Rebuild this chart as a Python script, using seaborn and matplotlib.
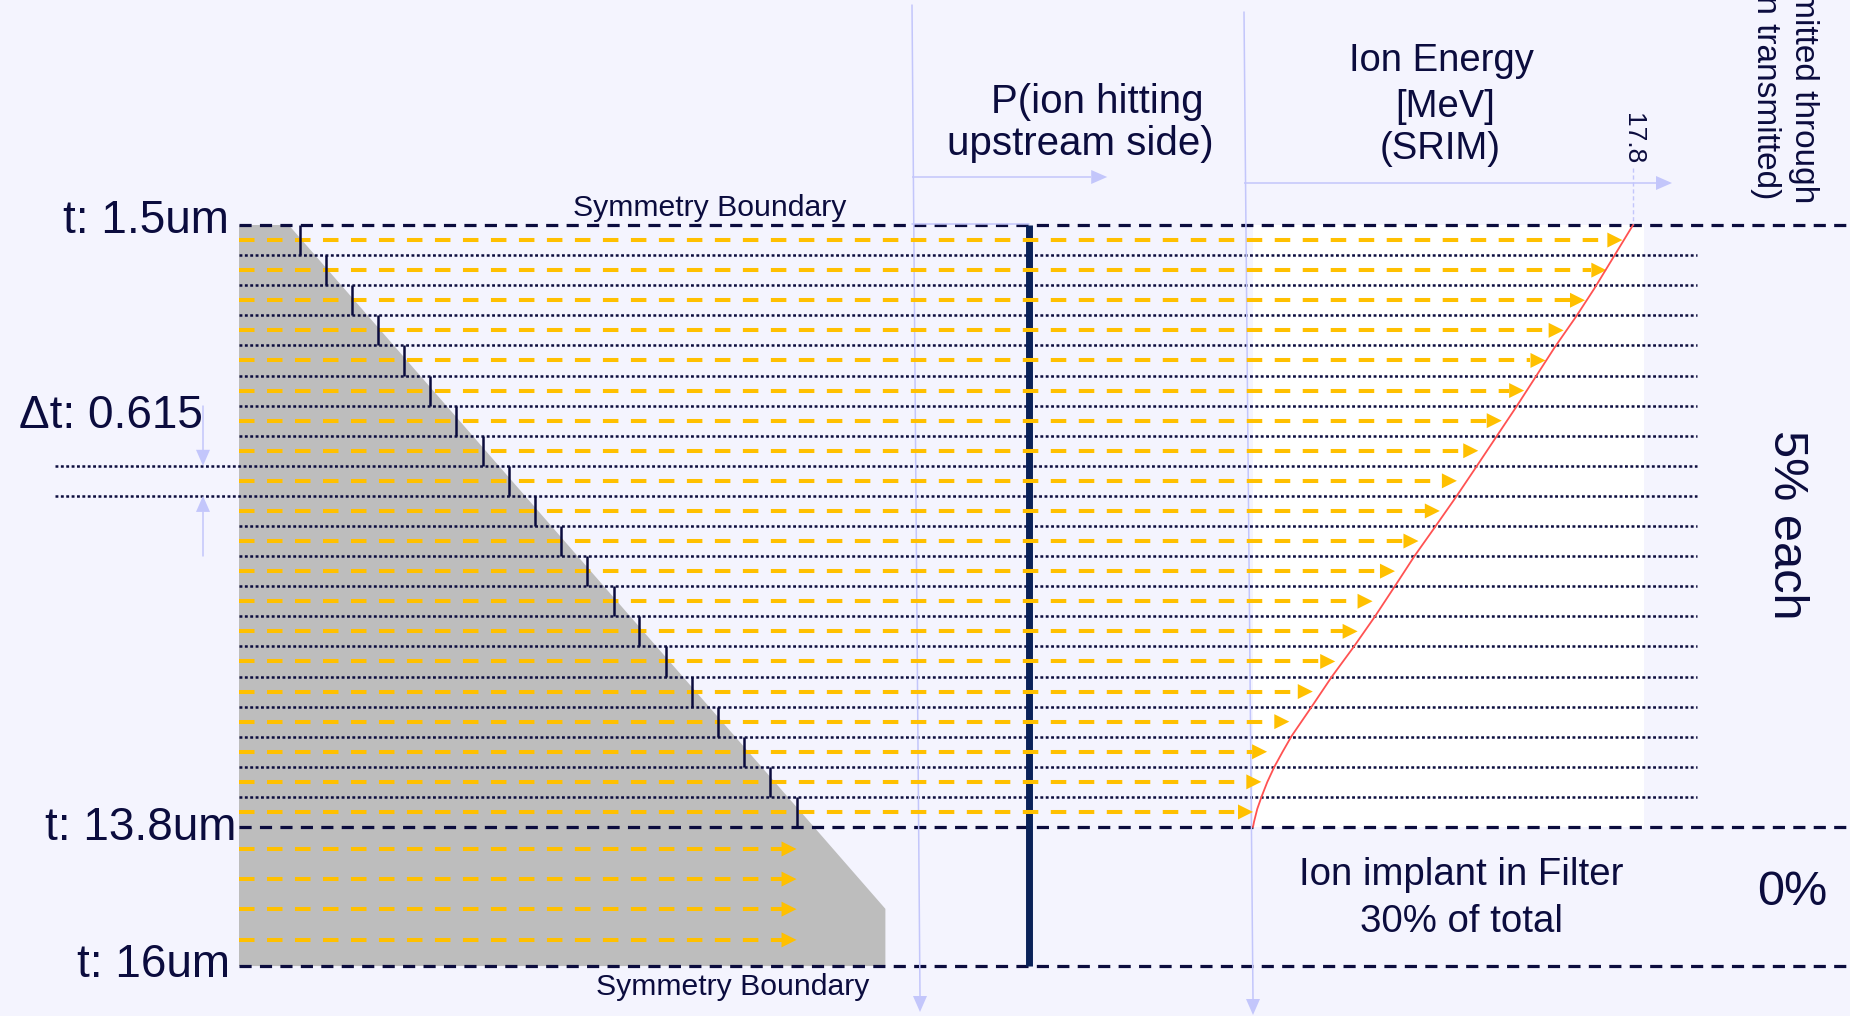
import matplotlib
matplotlib.use("Agg")
import matplotlib.pyplot as plt
from matplotlib.patches import Rectangle
import pandas as pd
import seaborn as sns

# ---- data ---------------------------------------------------------------
T_TOP = 1.5          # um, upper symmetry boundary
T_RANGE = 13.8       # um, ion range in the filter
T_BOTTOM = 16.0      # um, lower symmetry boundary
DT = 0.615           # um per 5% bin
E_MAX = 17.8         # MeV at t = 1.5um

T_LABELS = ["t: 1.5um", "t: 13.8um", "t: 16um"]

# thickness crossed by each transmitted bin (black ticks on the wedge), um
TICK_T = [1.5, 2.15, 2.8, 3.44, 4.09, 4.74, 5.38, 6.03, 6.68, 7.33,
          7.97, 8.62, 9.27, 9.91, 10.56, 11.21, 11.86, 12.5, 13.15, 13.8]

# exit energy of each bin (yellow arrow tips), MeV
ARROW_E = [17.3, 16.55, 15.55, 14.55, 13.7, 12.7, 11.65, 10.55, 9.55, 8.75,
           7.75, 6.65, 5.6, 4.9, 3.85, 2.8, 1.7, 0.66, 0.39, 0.0]

# SRIM energy vs filter thickness (red curve)
CURVE_T = [1.5, 2.79, 3.36, 4.0, 5.21, 6.44, 7.05, 7.68, 8.26, 8.75, 9.5,
           10.13, 10.73, 11.36, 11.94, 12.26, 12.57, 12.88, 13.17, 13.43,
           13.69, 13.8]
CURVE_E = [17.8, 16.0, 15.15, 14.13, 12.34, 10.46, 9.52, 8.51, 7.57, 6.84, 5.71,
           4.70, 3.69, 2.72, 1.81, 1.39, 1.0, 0.67, 0.41, 0.2,
           0.05, 0.0]

# filter cross-section: thickness [um] vs lateral row
WEDGE_T = [0.0, 1.23, 16.0, 16.0, 0.0]
WEDGE_ROW = [0.0, 0.0, 22.72, 24.62, 24.62]

IMPLANT_ROWS = [20.73, 21.73, 22.73, 23.75]   # ions stopped in the filter
P_UPSTREAM = 0.5

# ---- layout (pixels of the 1850 x 1016 canvas) --------------------------
W, H = 1850, 1016
Y_TOP, ROW_H = 225, 30.1
ROW_16 = WEDGE_ROW[-1]
X_FILTER0, PX_UM = 239, 40.4
X_E0, PX_MEV = 1253, 21.35
X_P0, PX_P = 914, 230

BG = "#f4f4fe"
NAVY = "#0b0c3e"
BAR = "#0a2259"
LIGHT = "#c3c6fb"
YELLOW = "#ffc000"
GRAY = "#bdbdbd"
RED = "#ff5252"

sns.set_theme(style="white")
plt.rcParams["font.family"] = ["Liberation Sans", "DejaVu Sans"]


def ypix(row):
    return Y_TOP + ROW_H * row


def x_filter(t):
    return X_FILTER0 + PX_UM * t


def x_energy(e):
    return X_E0 + PX_MEV * e


def arrow_h(ax, x0, x1, y, color, lw, dashes=None, hl=15, hw=15, z=5):
    kw = dict(color=color, lw=lw, solid_capstyle="butt", zorder=z)
    if dashes:
        kw.update(dashes=dashes, dash_capstyle="butt")
    ax.plot([x0, x1 - hl], [y, y], **kw)
    ax.fill([x1, x1 - hl, x1 - hl], [y, y - hw / 2, y + hw / 2],
            color=color, lw=0, zorder=z)


def arrow_v(ax, x0, y0, x1, y1, color, lw, hl=16, hw=14, z=3):
    d = 1 if y1 > y0 else -1
    ax.plot([x0, x1], [y0, y1 - d * hl], color=color, lw=lw, zorder=z)
    ax.fill([x1, x1 - hw / 2, x1 + hw / 2], [y1, y1 - d * hl, y1 - d * hl],
            color=color, lw=0, zorder=z)


fig = plt.figure(figsize=(W / 100, H / 100), dpi=100)
fig.patch.set_facecolor(BG)
ax = fig.add_axes([0, 0, 1, 1])
ax.set_facecolor(BG)

# white energy panel
ax.add_patch(Rectangle((X_E0, ypix(0)), 391, ROW_H * len(ARROW_E),
                       color="white", lw=0, zorder=1))

# filter wedge
ax.fill([x_filter(t) for t in WEDGE_T], [ypix(r) for r in WEDGE_ROW],
        color=GRAY, lw=0, zorder=2)

# bin separators (dotted) and boundaries (dashed)
for k in range(1, len(ARROW_E)):
    xs = 55 if k in (8, 9) else X_FILTER0
    ax.plot([xs, 1697], [ypix(k)] * 2, color=NAVY, lw=1.8,
            dashes=(1.15, 1.0), dash_capstyle="butt", zorder=3)
for r in (0, len(ARROW_E), ROW_16):
    ax.plot([X_FILTER0, W], [ypix(r)] * 2, color=NAVY, lw=2.3,
            dashes=(3.8, 2.6), dash_capstyle="butt", zorder=3)

# axes of the two right panels
arrow_v(ax, 912, 5, 920, 1012, LIGHT, 1.1)
arrow_v(ax, 1244, 12, 1253, 1015, LIGHT, 1.1)
arrow_h(ax, 912, X_P0 + PX_P * 0.84, 177, LIGHT, 1.1, hl=16, hw=14, z=3)
arrow_h(ax, 1244, 1672, 183, LIGHT, 1.1, hl=16, hw=14, z=3)
ax.plot([912, X_P0 + PX_P * P_UPSTREAM], [224, 224], color=LIGHT, lw=1.1, zorder=3)
ax.plot([x_energy(E_MAX)] * 2, [168, ypix(0)], color=LIGHT, lw=1.0,
        dashes=(3, 2), zorder=3)

# delta-t markers
arrow_v(ax, 203, 406, 203, ypix(8), LIGHT, 1.1)
arrow_v(ax, 203, 556, 203, ypix(9), LIGHT, 1.1)

# P(upstream) bar
ax.plot([X_P0 + PX_P * P_UPSTREAM] * 2, [ypix(0), ypix(ROW_16)], color=BAR,
        lw=5, solid_capstyle="butt", zorder=4)

# ion paths
for i, e in enumerate(ARROW_E):
    arrow_h(ax, X_FILTER0, x_energy(e), ypix(i + 0.5), YELLOW, 2.9,
            dashes=(3.85, 3.1))
for r in IMPLANT_ROWS:
    arrow_h(ax, X_FILTER0, x_filter(T_RANGE), ypix(r), YELLOW, 2.9,
            dashes=(3.85, 3.1))

# thickness ticks
for i, t in enumerate(TICK_T):
    ax.plot([x_filter(t)] * 2, [ypix(i), ypix(i + 1)], color=NAVY, lw=1.8,
            solid_capstyle="butt", zorder=6)

# SRIM energy curve
curve = pd.DataFrame({"x": [x_energy(e) for e in CURVE_E],
                      "y": [ypix((t - T_TOP) / DT) for t in CURVE_T]})
sns.lineplot(data=curve, x="x", y="y", sort=False, color=RED, lw=1.3,
             ax=ax, zorder=7)

# text
txt = dict(color=NAVY, va="baseline")
ax.text(229, 233, T_LABELS[0], fontsize=33, ha="right", **txt)
ax.text(203, 428, "Δt: " + str(DT), fontsize=33, ha="right", **txt)
ax.text(236, 840, T_LABELS[1], fontsize=33, ha="right", **txt)
ax.text(230, 977, T_LABELS[2], fontsize=33, ha="right", **txt)
ax.text(710, 216, "Symmetry Boundary", fontsize=21.7, ha="center", **txt)
ax.text(733, 995, "Symmetry Boundary", fontsize=21.7, ha="center", **txt)
ax.text(1097, 113, "P(ion hitting", fontsize=29, ha="center", **txt)
ax.text(1080, 155, "upstream side)", fontsize=29, ha="center", **txt)
ax.text(1441, 71, "Ion Energy", fontsize=27.5, ha="center", **txt)
ax.text(1445, 117, "[MeV]", fontsize=27.5, ha="center", **txt)
ax.text(1440, 159, "(SRIM)", fontsize=27.5, ha="center", **txt)
ax.text(1461, 885, "Ion implant in Filter", fontsize=27.6, ha="center", **txt)
ax.text(1461, 932, "30% of total", fontsize=27.6, ha="center", **txt)
ax.text(1792, 905, "0%", fontsize=35, ha="center", **txt)
ax.text(x_energy(E_MAX), 139, str(E_MAX), fontsize=19, rotation=270,
        ha="center", va="center", color=NAVY)
ax.text(1786, 525, "5% each", fontsize=35, rotation=270,
        ha="center", va="center", color=NAVY)
ax.text(1803, 203, "Share of ions transmitted through", fontsize=24,
        rotation=270, rotation_mode="anchor", ha="right", va="center", color=NAVY)
ax.text(1766, 199, "(% of ion transmitted)", fontsize=24,
        rotation=270, rotation_mode="anchor", ha="right", va="center", color=NAVY)

ax.set_xlim(0, W)
ax.set_ylim(H, 0)
ax.axis("off")
fig.savefig("out.png", dpi=100, facecolor=BG)
